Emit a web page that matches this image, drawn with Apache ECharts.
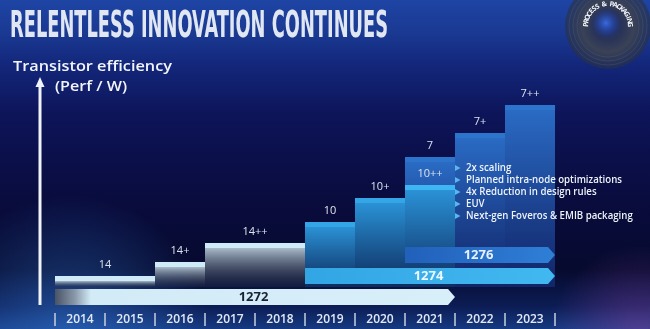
<!DOCTYPE html>
<html><head><meta charset="utf-8">
<script src="https://cdn.jsdelivr.net/npm/echarts@6/dist/echarts.min.js"></script>
<style>html,body{margin:0;padding:0;background:#0a1048;}#c{width:650px;height:329px;}</style>
</head><body><div id="c"></div>
<script>
// ---------- data ----------
const years = ['2014','2015','2016','2017','2018','2019','2020','2021','2022','2023'];
const nodeNames = ['14','14+','14++','10','10+','7','10++','7+','7++'];
const nodeStart = [2014, 2016, 2017, 2019, 2020, 2021, 2021, 2022, 2023];
const nodeEnd   = [2016, 2017, 2019, 2020, 2021, 2022, 2022, 2023, 2024];
const nodeEfficiency = [11, 25, 44, 65, 89, 130, 102, 154, 182];
const roadmapNames = ['1272', '1274', '1276'];
const roadmapStart = [2014, 2019, 2021];
const roadmapEnd   = [2022, 2024, 2024];
const bullets = ['2x scaling', 'Planned intra-node optimizations', '4x Reduction in design rules', 'EUV', 'Next-gen Foveros & EMIB packaging'];
const titleText = 'RELENTLESS INNOVATION CONTINUES';
const axisTitle = ['Transistor efficiency', '(Perf / W)'];
const discText = 'PROCESS & PACKAGING';

// ---------- styles ----------
const familyStyle = {
  '14': { cap: '#cfebf8', top: 'rgba(178,196,210,0.95)', bottom: 'rgba(36,44,64,0.35)' },
  '10': { cap: '#34a6e6', top: '#2a92d6', bottom: 'rgba(14,46,98,0.92)' },
  '7':  { cap: '#2c74cc', top: '#2a6bc4', bottom: 'rgba(18,38,108,0.92)' }
};
const capOverride = { '10++': '#3fb6f4' };
function familyOf(n) { return n.replace(/\+/g, ''); }

const roadmapStyle = {
  '1272': { fill: new echarts.graphic.LinearGradient(0, 0, 1, 0, [
      { offset: 0, color: '#485364' }, { offset: 0.05, color: '#8a99aa' },
      { offset: 0.09, color: '#d3ebf7' }, { offset: 1, color: '#d8effa' }]), text: '#1a2336' },
  '1274': { fill: new echarts.graphic.LinearGradient(0, 0, 1, 0, [
      { offset: 0, color: '#32a6e4' }, { offset: 1, color: '#42b8f0' }]), text: '#eef8ff' },
  '1276': { fill: new echarts.graphic.LinearGradient(0, 0, 1, 0, [
      { offset: 0, color: '#2160bb' }, { offset: 1, color: '#2f7fd6' }]), text: '#e8f1ff' }
};

const ctx = document.createElement('canvas').getContext('2d');
function measure(font, text) { ctx.font = font; return ctx.measureText(text).width; }

const chart = echarts.init(document.getElementById('c'), null, { renderer: 'canvas' });

function renderNode(params, api) {
  const i = params.dataIndex;
  const name = nodeNames[i];
  const a = api.coord([api.value(0), 0]);
  const b = api.coord([api.value(1), api.value(2)]);
  const left = a[0], right = b[0], bottom = a[1], top = b[1];
  const st = familyStyle[familyOf(name)];
  const capH = 5;
  return {
    type: 'group',
    children: [
      { type: 'rect', shape: { x: left, y: top + capH, width: right - left, height: Math.max(0, bottom - top - capH) },
        style: { fill: new echarts.graphic.LinearGradient(0, 0, 0, 1, [
          { offset: 0, color: st.top }, { offset: 1, color: st.bottom }]) } },
      { type: 'rect', shape: { x: left, y: top, width: right - left, height: capH },
        style: { fill: capOverride[name] || st.cap } },
      { type: 'text', style: { text: name, x: (left + right) / 2, y: top - 11, align: 'center', verticalAlign: 'middle',
        fill: '#dde3ec', font: '500 11px "Open Sans", sans-serif' } }
    ]
  };
}

function renderRoad(params, api) {
  const i = params.dataIndex;
  const name = roadmapNames[i];
  const a = api.coord([api.value(0), api.value(2)]);
  const b = api.coord([api.value(1), api.value(2)]);
  const h = api.size([0, 1])[1] * 0.76;
  const tip = 7;
  const y0 = a[1] - h / 2, y1 = a[1] + h / 2;
  const st = roadmapStyle[name];
  return {
    type: 'group',
    children: [
      { type: 'polygon', shape: { points: [[a[0], y0], [b[0] - tip, y0], [b[0], a[1]], [b[0] - tip, y1], [a[0], y1]] },
        style: { fill: st.fill } },
      { type: 'text', style: { text: name, x: (a[0] + b[0] - tip) / 2 + 2, y: a[1] + 0.5, align: 'center', verticalAlign: 'middle',
        fill: st.text, font: 'bold 13px "Open Sans", sans-serif' } }
    ]
  };
}

// ---------- graphic decorations ----------
const W = 650, H = 329;
const elements = [];
elements.push({ type: 'rect', z: -10, shape: { x: 0, y: 0, width: W, height: H },
  style: { fill: new echarts.graphic.LinearGradient(0, 0, 0, 1, [
    { offset: 0, color: '#1e44a4' }, { offset: 0.1, color: '#1a3992' }, { offset: 0.2, color: '#13267a' },
    { offset: 0.35, color: '#0d1458' }, { offset: 0.6, color: '#090c3e' }, { offset: 0.82, color: '#060a2e' },
    { offset: 0.93, color: '#0c1c54' }, { offset: 1, color: '#163a82' }]) } });
elements.push({ type: 'circle', z: -9, shape: { cx: 70, cy: 335, r: 140 },
  style: { fill: new echarts.graphic.RadialGradient(0.5, 0.5, 0.5, [
    { offset: 0, color: 'rgba(50,120,210,0.55)' }, { offset: 1, color: 'rgba(50,120,210,0)' }]) } });
elements.push({ type: 'circle', z: -9, shape: { cx: 640, cy: 335, r: 90 },
  style: { fill: new echarts.graphic.RadialGradient(0.5, 0.5, 0.5, [
    { offset: 0, color: 'rgba(150,70,170,0.45)' }, { offset: 1, color: 'rgba(150,70,170,0)' }]) } });

// title
const titleFont = 'bold 37px "Liberation Sans Narrow", "DejaVu Sans Condensed", Roboto, sans-serif';
const tW = measure(titleFont, titleText);
elements.push({ type: 'text', x: 10, y: 27, scaleX: 378 / tW, z: 5,
  style: { text: titleText, font: titleFont, fill: '#e0e7f2', verticalAlign: 'middle', align: 'left' } });

// axis title
const atFont = '600 14px "Open Sans", sans-serif';
const atW = measure(atFont, axisTitle[0]);
elements.push({ type: 'text', x: 13, y: 67, scaleX: 159 / atW, z: 5,
  style: { text: axisTitle[0], font: atFont, fill: '#f2f5fa', verticalAlign: 'middle' } });
const at2W = measure(atFont, axisTitle[1]);
elements.push({ type: 'text', x: 55, y: 87, scaleX: 72 / at2W, z: 5,
  style: { text: axisTitle[1], font: atFont, fill: '#f2f5fa', verticalAlign: 'middle' } });

// vertical arrow
elements.push({ type: 'line', z: 5, shape: { x1: 40, y1: 305, x2: 40, y2: 85 }, style: { stroke: '#f0f4fa', lineWidth: 3 } });
elements.push({ type: 'polygon', z: 5, shape: { points: [[35.5, 87], [40, 77], [44.5, 87]] }, style: { fill: '#f0f4fa' } });

// bullets
const bFont = '600 10.5px "Open Sans", sans-serif';
const bScale = 156 / measure(bFont, bullets[1]);
bullets.forEach((t, i) => {
  const y = 168 + i * 12;
  elements.push({ type: 'polygon', z: 6, shape: { points: [[455, y - 3], [460.5, y], [455, y + 3]] }, style: { fill: '#5cb6ee' } });
  elements.push({ type: 'text', z: 6, x: 466, y: y, scaleX: bScale,
    style: { text: t, font: bFont, fill: '#eef3fa', verticalAlign: 'middle' } });
});

// disc logo
const dcx = 608, dcy = 26;
elements.push({ type: 'circle', z: 1, shape: { cx: dcx, cy: dcy, r: 43 },
  style: { fill: new echarts.graphic.RadialGradient(0.5, 0.5, 0.5, [
    { offset: 0, color: '#1c3278' }, { offset: 0.35, color: '#2a3458' }, { offset: 0.6, color: '#3a4256' }, { offset: 1, color: 'rgba(40,48,68,0.6)' }]) } });
[31, 35, 39].forEach(r => elements.push({ type: 'circle', z: 1, shape: { cx: dcx, cy: dcy, r: r },
  style: { fill: 'none', stroke: 'rgba(120,130,150,0.18)', lineWidth: 1 } }));
elements.push({ type: 'circle', z: 1, shape: { cx: dcx - 2, cy: dcy - 3, r: 13 },
  style: { fill: new echarts.graphic.RadialGradient(0.5, 0.5, 0.5, [
    { offset: 0, color: 'rgba(60,110,230,0.95)' }, { offset: 1, color: 'rgba(30,60,160,0.2)' }]) } });
(function () {
  const n = discText.length;
  const a0 = Math.PI * 1.02, a1 = Math.PI * 1.98, r = 22;
  for (let k = 0; k < n; k++) {
    const th = a0 + (a1 - a0) * k / (n - 1);
    elements.push({ type: 'text', z: 2, x: dcx + r * Math.cos(th), y: dcy + r * Math.sin(th), rotation: -(th + Math.PI / 2),
      style: { text: discText[k], font: 'bold 7px "Open Sans", sans-serif', fill: '#f4f6fa', align: 'center', verticalAlign: 'middle' } });
  }
})();

const option = {
  animation: false,
  backgroundColor: '#0a1048',
  grid: [
    { left: 55, width: 500, top: 87, height: 200 },
    { left: 55, width: 500, top: 244.5, height: 63 }
  ],
  xAxis: [
    { gridIndex: 0, type: 'value', min: 2014, max: 2024, show: false },
    { gridIndex: 1, type: 'value', min: 2014, max: 2024, show: false, position: 'top' },
    { gridIndex: 1, type: 'category', data: years, position: 'bottom', offset: 5.5,
      axisLine: { show: false },
      axisTick: { show: true, interval: 0, length: 13, lineStyle: { color: '#c5cede', width: 1.5 } },
      axisLabel: { color: '#e4eaf4', fontSize: 12, fontWeight: 600, fontFamily: '"Open Sans", sans-serif', margin: 1, interval: 0 },
      splitLine: { show: false } }
  ],
  yAxis: [
    { gridIndex: 0, type: 'value', min: 0, max: 200, show: false },
    { gridIndex: 1, type: 'category', data: roadmapNames, show: false }
  ],
  graphic: { elements: elements },
  series: [
    { type: 'custom', name: 'Process node', xAxisIndex: 0, yAxisIndex: 0, z: 2,
      renderItem: renderNode, encode: { x: [0, 1], y: 2 },
      data: nodeNames.map((n, i) => [nodeStart[i], nodeEnd[i], nodeEfficiency[i]]) },
    { type: 'custom', name: 'Roadmap', xAxisIndex: 1, yAxisIndex: 1, z: 3,
      renderItem: renderRoad, encode: { x: [0, 1], y: 2 },
      data: roadmapNames.map((n, i) => [roadmapStart[i], roadmapEnd[i], i]) }
  ]
};
chart.setOption(option);
</script>
</body></html>
